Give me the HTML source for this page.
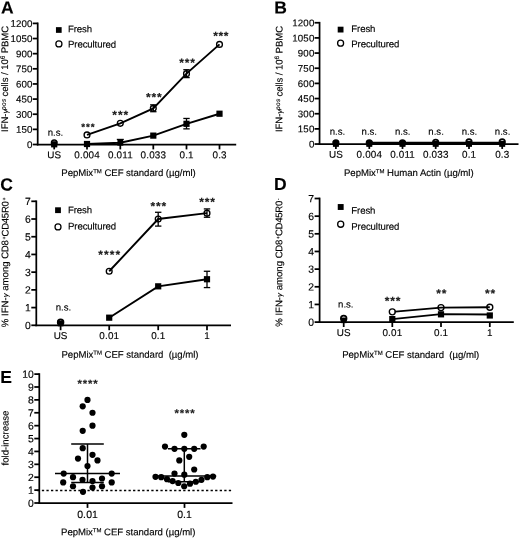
<!DOCTYPE html>
<html lang="en">
<head>
<meta charset="utf-8">
<title>Figure</title>
<style>
html,body{margin:0;padding:0;background:#fff;}
body{width:520px;height:539px;overflow:hidden;}
text{stroke:#000;stroke-width:0.14px;}
svg{display:block;text-rendering:geometricPrecision;font-family:'Liberation Sans', sans-serif;fill:#000;}
</style>
</head>
<body>
<svg width="520" height="539" viewBox="0 0 520 539">
<g>
<rect width="520" height="539" fill="#fff"/>
<line x1="37.70" y1="22.52" x2="37.70" y2="145.38" stroke="#000" stroke-width="1.75" />
<line x1="36.83" y1="144.50" x2="236.20" y2="144.50" stroke="#000" stroke-width="1.75" />
<line x1="32.70" y1="144.50" x2="37.70" y2="144.50" stroke="#000" stroke-width="1.75" />
<text x="32.60" y="148.00" transform="rotate(0.05 32.60 148.00)" text-anchor="end" font-size="9.7" font-weight="normal" letter-spacing="0.14">0</text>
<line x1="32.70" y1="129.36" x2="37.70" y2="129.36" stroke="#000" stroke-width="1.75" />
<text x="32.60" y="132.86" transform="rotate(0.05 32.60 132.86)" text-anchor="end" font-size="9.7" font-weight="normal" letter-spacing="0.14">150</text>
<line x1="32.70" y1="114.22" x2="37.70" y2="114.22" stroke="#000" stroke-width="1.75" />
<text x="32.60" y="117.72" transform="rotate(0.05 32.60 117.72)" text-anchor="end" font-size="9.7" font-weight="normal" letter-spacing="0.14">300</text>
<line x1="32.70" y1="99.09" x2="37.70" y2="99.09" stroke="#000" stroke-width="1.75" />
<text x="32.60" y="102.59" transform="rotate(0.05 32.60 102.59)" text-anchor="end" font-size="9.7" font-weight="normal" letter-spacing="0.14">450</text>
<line x1="32.70" y1="83.95" x2="37.70" y2="83.95" stroke="#000" stroke-width="1.75" />
<text x="32.60" y="87.45" transform="rotate(0.05 32.60 87.45)" text-anchor="end" font-size="9.7" font-weight="normal" letter-spacing="0.14">600</text>
<line x1="32.70" y1="68.81" x2="37.70" y2="68.81" stroke="#000" stroke-width="1.75" />
<text x="32.60" y="72.31" transform="rotate(0.05 32.60 72.31)" text-anchor="end" font-size="9.7" font-weight="normal" letter-spacing="0.14">750</text>
<line x1="32.70" y1="53.67" x2="37.70" y2="53.67" stroke="#000" stroke-width="1.75" />
<text x="32.60" y="57.17" transform="rotate(0.05 32.60 57.17)" text-anchor="end" font-size="9.7" font-weight="normal" letter-spacing="0.14">900</text>
<line x1="32.70" y1="38.54" x2="37.70" y2="38.54" stroke="#000" stroke-width="1.75" />
<text x="32.60" y="42.04" transform="rotate(0.05 32.60 42.04)" text-anchor="end" font-size="9.7" font-weight="normal" letter-spacing="0.14">1050</text>
<line x1="32.70" y1="23.40" x2="37.70" y2="23.40" stroke="#000" stroke-width="1.75" />
<text x="32.60" y="26.90" transform="rotate(0.05 32.60 26.90)" text-anchor="end" font-size="9.7" font-weight="normal" letter-spacing="0.14">1200</text>
<line x1="54.20" y1="144.50" x2="54.20" y2="149.40" stroke="#000" stroke-width="1.75" />
<text x="54.20" y="158.30" transform="rotate(0.05 54.20 158.30)" text-anchor="middle" font-size="9.9" font-weight="normal" >US</text>
<line x1="87.00" y1="144.50" x2="87.00" y2="149.40" stroke="#000" stroke-width="1.75" />
<text x="87.10" y="158.30" transform="rotate(0.05 87.10 158.30)" text-anchor="middle" font-size="9.9" font-weight="normal" letter-spacing="0.18">0.004</text>
<line x1="120.30" y1="144.50" x2="120.30" y2="149.40" stroke="#000" stroke-width="1.75" />
<text x="120.40" y="158.30" transform="rotate(0.05 120.40 158.30)" text-anchor="middle" font-size="9.9" font-weight="normal" letter-spacing="0.18">0.011</text>
<line x1="153.30" y1="144.50" x2="153.30" y2="149.40" stroke="#000" stroke-width="1.75" />
<text x="153.40" y="158.30" transform="rotate(0.05 153.40 158.30)" text-anchor="middle" font-size="9.9" font-weight="normal" letter-spacing="0.18">0.033</text>
<line x1="186.50" y1="144.50" x2="186.50" y2="149.40" stroke="#000" stroke-width="1.75" />
<text x="186.60" y="158.30" transform="rotate(0.05 186.60 158.30)" text-anchor="middle" font-size="9.9" font-weight="normal" letter-spacing="0.18">0.1</text>
<line x1="219.50" y1="144.50" x2="219.50" y2="149.40" stroke="#000" stroke-width="1.75" />
<text x="219.60" y="158.30" transform="rotate(0.05 219.60 158.30)" text-anchor="middle" font-size="9.9" font-weight="normal" letter-spacing="0.18">0.3</text>
<text x="0.90" y="13.40" transform="rotate(0.05 0.90 13.40)" text-anchor="start" font-size="17.5" font-weight="bold" >A</text>
<text transform="translate(8.10,78.90) rotate(-89.95)" text-anchor="middle" font-size="9.6" letter-spacing="-0.08">IFN-<tspan font-size="7.8" font-style="italic">γ</tspan><tspan font-size="6.4" dy="-2.3" dx="-0.2" font-style="italic" letter-spacing="0.45">pos</tspan><tspan dy="2.3" dx="-0.7"> cells / 10</tspan><tspan font-size="6.4" dy="-3.4" dx="0">6</tspan><tspan dy="3.4" dx="0"> PBMC</tspan></text>
<text x="128.50" y="176.00" transform="rotate(0.05 128.50 176.00)" text-anchor="middle" font-size="9.6" font-weight="normal" letter-spacing="-0.03" xml:space="preserve">PepMix<tspan font-size="6" dy="-2.8">TM</tspan><tspan dy="2.8"> </tspan>CEF standard (µg/ml)</text>
<rect x="55.95" y="27.15" width="5.7" height="5.7" fill="#000"/>
<text x="68.00" y="32.20" transform="rotate(0.05 68.00 32.20)" text-anchor="start" font-size="9.6" font-weight="normal" letter-spacing="-0.1">Fresh</text>
<circle cx="58.90" cy="43.90" r="3.05" fill="none" stroke="#000" stroke-width="1.25"/>
<text x="68.00" y="47.60" transform="rotate(0.05 68.00 47.60)" text-anchor="start" font-size="9.6" font-weight="normal" letter-spacing="-0.1">Precultured</text>
<polyline points="87.00,134.91 120.30,123.31 153.30,108.37 186.50,73.66 219.50,44.39" fill="none" stroke="#000" stroke-width="1.9"/>
<polyline points="87.00,144.00 120.30,142.78 153.30,135.62 186.50,123.81 219.50,113.72" fill="none" stroke="#000" stroke-width="1.9"/>
<line x1="120.30" y1="139.45" x2="120.30" y2="144.50" stroke="#000" stroke-width="1.3" />
<line x1="116.80" y1="139.45" x2="123.80" y2="139.45" stroke="#000" stroke-width="1.3" />
<line x1="116.80" y1="144.50" x2="123.80" y2="144.50" stroke="#000" stroke-width="1.3" />
<line x1="186.50" y1="118.46" x2="186.50" y2="128.86" stroke="#000" stroke-width="1.3" />
<line x1="183.30" y1="118.46" x2="189.70" y2="118.46" stroke="#000" stroke-width="1.3" />
<line x1="183.30" y1="128.86" x2="189.70" y2="128.86" stroke="#000" stroke-width="1.3" />
<line x1="153.30" y1="104.84" x2="153.30" y2="111.70" stroke="#000" stroke-width="1.3" />
<line x1="150.10" y1="104.84" x2="156.50" y2="104.84" stroke="#000" stroke-width="1.3" />
<line x1="150.10" y1="111.70" x2="156.50" y2="111.70" stroke="#000" stroke-width="1.3" />
<line x1="186.50" y1="69.72" x2="186.50" y2="77.59" stroke="#000" stroke-width="1.3" />
<line x1="183.30" y1="69.72" x2="189.70" y2="69.72" stroke="#000" stroke-width="1.3" />
<line x1="183.30" y1="77.59" x2="189.70" y2="77.59" stroke="#000" stroke-width="1.3" />
<rect x="51.10" y="141.20" width="6.2" height="6.2" fill="#000"/>
<rect x="83.90" y="140.90" width="6.2" height="6.2" fill="#000"/>
<rect x="117.45" y="139.93" width="5.7" height="5.7" fill="#000"/>
<rect x="150.20" y="132.52" width="6.2" height="6.2" fill="#000"/>
<rect x="183.40" y="120.71" width="6.2" height="6.2" fill="#000"/>
<rect x="216.40" y="110.62" width="6.2" height="6.2" fill="#000"/>
<circle cx="54.20" cy="142.78" r="2.8" fill="none" stroke="#000" stroke-width="1.4"/>
<circle cx="87.00" cy="134.91" r="2.9" fill="none" stroke="#000" stroke-width="1.35"/>
<circle cx="120.30" cy="123.31" r="2.9" fill="none" stroke="#000" stroke-width="1.35"/>
<circle cx="153.30" cy="108.37" r="2.9" fill="none" stroke="#000" stroke-width="1.35"/>
<circle cx="186.50" cy="73.66" r="2.9" fill="none" stroke="#000" stroke-width="1.35"/>
<circle cx="219.50" cy="44.39" r="2.9" fill="none" stroke="#000" stroke-width="1.35"/>
<text x="55.50" y="135.80" transform="rotate(0.05 55.50 135.80)" text-anchor="middle" font-size="9.6" font-weight="normal" >n.s.</text>
<text x="88.30" y="130.20" transform="rotate(0.05 88.30 130.20)" text-anchor="middle" font-size="9.8" font-weight="bold" letter-spacing="0.95" stroke="none" fill="#222">***</text>
<text x="120.80" y="119.00" transform="rotate(0.05 120.80 119.00)" text-anchor="middle" font-size="12" font-weight="bold" letter-spacing="0.95" stroke="none" fill="#222">***</text>
<text x="154.30" y="101.30" transform="rotate(0.05 154.30 101.30)" text-anchor="middle" font-size="12" font-weight="bold" letter-spacing="0.8" stroke="none" fill="#222">***</text>
<text x="187.50" y="66.80" transform="rotate(0.05 187.50 66.80)" text-anchor="middle" font-size="12" font-weight="bold" letter-spacing="0.8" stroke="none" fill="#222">***</text>
<text x="221.20" y="39.90" transform="rotate(0.05 221.20 39.90)" text-anchor="middle" font-size="12" font-weight="bold" letter-spacing="0.7" stroke="none" fill="#222">***</text>
<line x1="319.55" y1="21.88" x2="319.55" y2="144.93" stroke="#000" stroke-width="1.75" />
<line x1="318.68" y1="144.05" x2="518.50" y2="144.05" stroke="#000" stroke-width="1.75" />
<line x1="314.55" y1="144.05" x2="319.55" y2="144.05" stroke="#000" stroke-width="1.75" />
<text x="314.45" y="147.55" transform="rotate(0.05 314.45 147.55)" text-anchor="end" font-size="9.7" font-weight="normal" letter-spacing="0.14">0</text>
<line x1="314.55" y1="128.89" x2="319.55" y2="128.89" stroke="#000" stroke-width="1.75" />
<text x="314.45" y="132.39" transform="rotate(0.05 314.45 132.39)" text-anchor="end" font-size="9.7" font-weight="normal" letter-spacing="0.14">150</text>
<line x1="314.55" y1="113.73" x2="319.55" y2="113.73" stroke="#000" stroke-width="1.75" />
<text x="314.45" y="117.23" transform="rotate(0.05 314.45 117.23)" text-anchor="end" font-size="9.7" font-weight="normal" letter-spacing="0.14">300</text>
<line x1="314.55" y1="98.56" x2="319.55" y2="98.56" stroke="#000" stroke-width="1.75" />
<text x="314.45" y="102.06" transform="rotate(0.05 314.45 102.06)" text-anchor="end" font-size="9.7" font-weight="normal" letter-spacing="0.14">450</text>
<line x1="314.55" y1="83.40" x2="319.55" y2="83.40" stroke="#000" stroke-width="1.75" />
<text x="314.45" y="86.90" transform="rotate(0.05 314.45 86.90)" text-anchor="end" font-size="9.7" font-weight="normal" letter-spacing="0.14">600</text>
<line x1="314.55" y1="68.24" x2="319.55" y2="68.24" stroke="#000" stroke-width="1.75" />
<text x="314.45" y="71.74" transform="rotate(0.05 314.45 71.74)" text-anchor="end" font-size="9.7" font-weight="normal" letter-spacing="0.14">750</text>
<line x1="314.55" y1="53.08" x2="319.55" y2="53.08" stroke="#000" stroke-width="1.75" />
<text x="314.45" y="56.58" transform="rotate(0.05 314.45 56.58)" text-anchor="end" font-size="9.7" font-weight="normal" letter-spacing="0.14">900</text>
<line x1="314.55" y1="37.91" x2="319.55" y2="37.91" stroke="#000" stroke-width="1.75" />
<text x="314.45" y="41.41" transform="rotate(0.05 314.45 41.41)" text-anchor="end" font-size="9.7" font-weight="normal" letter-spacing="0.14">1050</text>
<line x1="314.55" y1="22.75" x2="319.55" y2="22.75" stroke="#000" stroke-width="1.75" />
<text x="314.45" y="26.25" transform="rotate(0.05 314.45 26.25)" text-anchor="end" font-size="9.7" font-weight="normal" letter-spacing="0.14">1200</text>
<line x1="335.90" y1="144.05" x2="335.90" y2="148.95" stroke="#000" stroke-width="1.75" />
<text x="335.90" y="157.85" transform="rotate(0.05 335.90 157.85)" text-anchor="middle" font-size="9.9" font-weight="normal" >US</text>
<line x1="369.30" y1="144.05" x2="369.30" y2="148.95" stroke="#000" stroke-width="1.75" />
<text x="369.40" y="157.85" transform="rotate(0.05 369.40 157.85)" text-anchor="middle" font-size="9.9" font-weight="normal" letter-spacing="0.18">0.004</text>
<line x1="402.50" y1="144.05" x2="402.50" y2="148.95" stroke="#000" stroke-width="1.75" />
<text x="402.60" y="157.85" transform="rotate(0.05 402.60 157.85)" text-anchor="middle" font-size="9.9" font-weight="normal" letter-spacing="0.18">0.011</text>
<line x1="435.70" y1="144.05" x2="435.70" y2="148.95" stroke="#000" stroke-width="1.75" />
<text x="435.80" y="157.85" transform="rotate(0.05 435.80 157.85)" text-anchor="middle" font-size="9.9" font-weight="normal" letter-spacing="0.18">0.033</text>
<line x1="469.00" y1="144.05" x2="469.00" y2="148.95" stroke="#000" stroke-width="1.75" />
<text x="469.10" y="157.85" transform="rotate(0.05 469.10 157.85)" text-anchor="middle" font-size="9.9" font-weight="normal" letter-spacing="0.18">0.1</text>
<line x1="502.20" y1="144.05" x2="502.20" y2="148.95" stroke="#000" stroke-width="1.75" />
<text x="502.30" y="157.85" transform="rotate(0.05 502.30 157.85)" text-anchor="middle" font-size="9.9" font-weight="normal" letter-spacing="0.18">0.3</text>
<text x="274.30" y="13.50" transform="rotate(0.05 274.30 13.50)" text-anchor="start" font-size="17.5" font-weight="bold" >B</text>
<text transform="translate(282.40,79.00) rotate(-89.95)" text-anchor="middle" font-size="9.6" letter-spacing="-0.08">IFN-<tspan font-size="7.8" font-style="italic">γ</tspan><tspan font-size="6.4" dy="-2.3" dx="-0.2" font-style="italic" letter-spacing="0.45">pos</tspan><tspan dy="2.3" dx="-0.7"> cells / 10</tspan><tspan font-size="6.4" dy="-3.4" dx="0">6</tspan><tspan dy="3.4" dx="0"> PBMC</tspan></text>
<text x="408.80" y="176.00" transform="rotate(0.05 408.80 176.00)" text-anchor="middle" font-size="9.6" font-weight="normal" letter-spacing="-0.03" xml:space="preserve">PepMix<tspan font-size="6" dy="-2.8">TM</tspan><tspan dy="2.8"> </tspan>Human Actin (µg/ml)</text>
<rect x="337.70" y="26.70" width="5.8" height="5.8" fill="#000"/>
<text x="351.30" y="32.00" transform="rotate(0.05 351.30 32.00)" text-anchor="start" font-size="9.6" font-weight="normal" letter-spacing="-0.1">Fresh</text>
<circle cx="340.60" cy="43.20" r="3.0" fill="none" stroke="#000" stroke-width="1.3"/>
<text x="351.30" y="47.30" transform="rotate(0.05 351.30 47.30)" text-anchor="start" font-size="9.6" font-weight="normal" letter-spacing="-0.1">Precultured</text>
<polyline points="369.30,143.44 402.50,143.44 435.70,143.44 469.00,143.44 502.20,143.44" fill="none" stroke="#000" stroke-width="1.8"/>
<polyline points="369.30,142.63 402.50,142.63 435.70,142.63 469.00,142.63 502.20,142.63" fill="none" stroke="#000" stroke-width="1.6"/>
<rect x="332.90" y="140.85" width="6.0" height="6.0" fill="#000"/>
<circle cx="335.90" cy="142.84" r="2.75" fill="none" stroke="#000" stroke-width="1.7"/>
<text x="337.50" y="134.80" transform="rotate(0.05 337.50 134.80)" text-anchor="middle" font-size="9.6" font-weight="normal" >n.s.</text>
<rect x="366.30" y="140.85" width="6.0" height="6.0" fill="#000"/>
<circle cx="369.30" cy="142.84" r="2.75" fill="none" stroke="#000" stroke-width="1.7"/>
<text x="369.30" y="134.80" transform="rotate(0.05 369.30 134.80)" text-anchor="middle" font-size="9.6" font-weight="normal" >n.s.</text>
<rect x="399.50" y="140.85" width="6.0" height="6.0" fill="#000"/>
<circle cx="402.50" cy="142.84" r="2.75" fill="none" stroke="#000" stroke-width="1.7"/>
<text x="402.70" y="134.80" transform="rotate(0.05 402.70 134.80)" text-anchor="middle" font-size="9.6" font-weight="normal" >n.s.</text>
<rect x="432.70" y="140.85" width="6.0" height="6.0" fill="#000"/>
<circle cx="435.70" cy="142.43" r="2.75" fill="none" stroke="#000" stroke-width="1.7"/>
<text x="436.10" y="134.80" transform="rotate(0.05 436.10 134.80)" text-anchor="middle" font-size="9.6" font-weight="normal" >n.s.</text>
<rect x="466.00" y="140.85" width="6.0" height="6.0" fill="#000"/>
<circle cx="469.00" cy="141.93" r="2.75" fill="none" stroke="#000" stroke-width="1.7"/>
<text x="469.40" y="134.80" transform="rotate(0.05 469.40 134.80)" text-anchor="middle" font-size="9.6" font-weight="normal" >n.s.</text>
<rect x="499.20" y="140.85" width="6.0" height="6.0" fill="#000"/>
<circle cx="502.20" cy="141.93" r="2.75" fill="none" stroke="#000" stroke-width="1.7"/>
<text x="502.60" y="134.80" transform="rotate(0.05 502.60 134.80)" text-anchor="middle" font-size="9.6" font-weight="normal" >n.s.</text>
<line x1="36.30" y1="200.43" x2="36.30" y2="326.18" stroke="#000" stroke-width="1.75" />
<line x1="35.42" y1="325.30" x2="231.00" y2="325.30" stroke="#000" stroke-width="1.75" />
<line x1="31.30" y1="325.30" x2="36.30" y2="325.30" stroke="#000" stroke-width="1.75" />
<text x="30.80" y="329.05" transform="rotate(0.05 30.80 329.05)" text-anchor="end" font-size="10.4" font-weight="normal" letter-spacing="0">0</text>
<line x1="31.30" y1="307.59" x2="36.30" y2="307.59" stroke="#000" stroke-width="1.75" />
<text x="30.80" y="311.34" transform="rotate(0.05 30.80 311.34)" text-anchor="end" font-size="10.4" font-weight="normal" letter-spacing="0">1</text>
<line x1="31.30" y1="289.87" x2="36.30" y2="289.87" stroke="#000" stroke-width="1.75" />
<text x="30.80" y="293.62" transform="rotate(0.05 30.80 293.62)" text-anchor="end" font-size="10.4" font-weight="normal" letter-spacing="0">2</text>
<line x1="31.30" y1="272.16" x2="36.30" y2="272.16" stroke="#000" stroke-width="1.75" />
<text x="30.80" y="275.91" transform="rotate(0.05 30.80 275.91)" text-anchor="end" font-size="10.4" font-weight="normal" letter-spacing="0">3</text>
<line x1="31.30" y1="254.44" x2="36.30" y2="254.44" stroke="#000" stroke-width="1.75" />
<text x="30.80" y="258.19" transform="rotate(0.05 30.80 258.19)" text-anchor="end" font-size="10.4" font-weight="normal" letter-spacing="0">4</text>
<line x1="31.30" y1="236.73" x2="36.30" y2="236.73" stroke="#000" stroke-width="1.75" />
<text x="30.80" y="240.48" transform="rotate(0.05 30.80 240.48)" text-anchor="end" font-size="10.4" font-weight="normal" letter-spacing="0">5</text>
<line x1="31.30" y1="219.01" x2="36.30" y2="219.01" stroke="#000" stroke-width="1.75" />
<text x="30.80" y="222.76" transform="rotate(0.05 30.80 222.76)" text-anchor="end" font-size="10.4" font-weight="normal" letter-spacing="0">6</text>
<line x1="31.30" y1="201.30" x2="36.30" y2="201.30" stroke="#000" stroke-width="1.75" />
<text x="30.80" y="205.05" transform="rotate(0.05 30.80 205.05)" text-anchor="end" font-size="10.4" font-weight="normal" letter-spacing="0">7</text>
<line x1="60.60" y1="325.30" x2="60.60" y2="330.20" stroke="#000" stroke-width="1.75" />
<text x="60.60" y="339.10" transform="rotate(0.05 60.60 339.10)" text-anchor="middle" font-size="9.9" font-weight="normal" >US</text>
<line x1="109.20" y1="325.30" x2="109.20" y2="330.20" stroke="#000" stroke-width="1.75" />
<text x="109.30" y="339.10" transform="rotate(0.05 109.30 339.10)" text-anchor="middle" font-size="9.9" font-weight="normal" letter-spacing="0.18">0.01</text>
<line x1="158.20" y1="325.30" x2="158.20" y2="330.20" stroke="#000" stroke-width="1.75" />
<text x="158.30" y="339.10" transform="rotate(0.05 158.30 339.10)" text-anchor="middle" font-size="9.9" font-weight="normal" letter-spacing="0.18">0.1</text>
<line x1="207.00" y1="325.30" x2="207.00" y2="330.20" stroke="#000" stroke-width="1.75" />
<text x="207.10" y="339.10" transform="rotate(0.05 207.10 339.10)" text-anchor="middle" font-size="9.9" font-weight="normal" letter-spacing="0.18">1</text>
<text x="0.20" y="190.60" transform="rotate(0.05 0.20 190.60)" text-anchor="start" font-size="17.5" font-weight="bold" >C</text>
<text transform="translate(8.30,327.20) rotate(-89.95)" text-anchor="start" font-size="9.6" >% IFN-<tspan font-size="7.8" font-style="italic">γ</tspan> among <tspan letter-spacing="-0.3">CD8</tspan><tspan font-size="5.0" dy="-2.6" dx="0.9">+</tspan><tspan dy="2.6" dx="0.2" letter-spacing="-0.3">CD45R0</tspan><tspan font-size="5.0" dy="-2.6" dx="0.9">+</tspan></text>
<text x="130.00" y="357.70" transform="rotate(0.05 130.00 357.70)" text-anchor="middle" font-size="9.6" font-weight="normal" letter-spacing="-0.03" xml:space="preserve">PepMix<tspan font-size="6" dy="-2.8">TM</tspan><tspan dy="2.8"> </tspan>CEF standard  (µg/ml)</text>
<rect x="55.10" y="207.30" width="5.8" height="5.8" fill="#000"/>
<text x="68.00" y="213.30" transform="rotate(0.05 68.00 213.30)" text-anchor="start" font-size="9.6" font-weight="normal" letter-spacing="-0.1">Fresh</text>
<circle cx="58.00" cy="226.90" r="3.0" fill="none" stroke="#000" stroke-width="1.25"/>
<text x="68.00" y="229.50" transform="rotate(0.05 68.00 229.50)" text-anchor="start" font-size="9.6" font-weight="normal" letter-spacing="-0.1">Precultured</text>
<polyline points="109.20,271.27 158.20,219.01 207.00,213.17" fill="none" stroke="#000" stroke-width="1.9"/>
<polyline points="109.20,317.68 158.20,286.33 207.00,279.24" fill="none" stroke="#000" stroke-width="1.9"/>
<line x1="158.20" y1="212.28" x2="158.20" y2="226.10" stroke="#000" stroke-width="1.3" />
<line x1="155.00" y1="212.28" x2="161.40" y2="212.28" stroke="#000" stroke-width="1.3" />
<line x1="155.00" y1="226.10" x2="161.40" y2="226.10" stroke="#000" stroke-width="1.3" />
<line x1="207.00" y1="208.92" x2="207.00" y2="217.24" stroke="#000" stroke-width="1.3" />
<line x1="203.80" y1="208.92" x2="210.20" y2="208.92" stroke="#000" stroke-width="1.3" />
<line x1="203.80" y1="217.24" x2="210.20" y2="217.24" stroke="#000" stroke-width="1.3" />
<line x1="207.00" y1="271.27" x2="207.00" y2="287.57" stroke="#000" stroke-width="1.3" />
<line x1="203.80" y1="271.27" x2="210.20" y2="271.27" stroke="#000" stroke-width="1.3" />
<line x1="203.80" y1="287.57" x2="210.20" y2="287.57" stroke="#000" stroke-width="1.3" />
<rect x="106.10" y="314.58" width="6.2" height="6.2" fill="#000"/>
<rect x="155.10" y="283.23" width="6.2" height="6.2" fill="#000"/>
<rect x="203.90" y="276.14" width="6.2" height="6.2" fill="#000"/>
<circle cx="109.20" cy="271.27" r="2.9" fill="none" stroke="#000" stroke-width="1.35"/>
<circle cx="158.20" cy="219.01" r="2.9" fill="none" stroke="#000" stroke-width="1.35"/>
<circle cx="207.00" cy="213.17" r="2.9" fill="none" stroke="#000" stroke-width="1.35"/>
<rect x="57.80" y="320.73" width="5.6" height="5.6" fill="#000"/>
<circle cx="60.60" cy="322.29" r="2.8" fill="none" stroke="#000" stroke-width="1.9"/>
<text x="63.50" y="310.40" transform="rotate(0.05 63.50 310.40)" text-anchor="middle" font-size="9.6" font-weight="normal" >n.s.</text>
<text x="109.70" y="258.80" transform="rotate(0.05 109.70 258.80)" text-anchor="middle" font-size="12" font-weight="bold" letter-spacing="1.05" stroke="none" fill="#222">****</text>
<text x="158.80" y="210.20" transform="rotate(0.05 158.80 210.20)" text-anchor="middle" font-size="12" font-weight="bold" letter-spacing="0.9" stroke="none" fill="#222">***</text>
<text x="207.60" y="206.10" transform="rotate(0.05 207.60 206.10)" text-anchor="middle" font-size="12" font-weight="bold" letter-spacing="0.9" stroke="none" fill="#222">***</text>
<line x1="319.60" y1="197.62" x2="319.60" y2="322.98" stroke="#000" stroke-width="1.75" />
<line x1="318.73" y1="322.10" x2="513.80" y2="322.10" stroke="#000" stroke-width="1.75" />
<line x1="314.60" y1="322.10" x2="319.60" y2="322.10" stroke="#000" stroke-width="1.75" />
<text x="314.10" y="325.85" transform="rotate(0.05 314.10 325.85)" text-anchor="end" font-size="10.4" font-weight="normal" letter-spacing="0">0</text>
<line x1="314.60" y1="304.44" x2="319.60" y2="304.44" stroke="#000" stroke-width="1.75" />
<text x="314.10" y="308.19" transform="rotate(0.05 314.10 308.19)" text-anchor="end" font-size="10.4" font-weight="normal" letter-spacing="0">1</text>
<line x1="314.60" y1="286.79" x2="319.60" y2="286.79" stroke="#000" stroke-width="1.75" />
<text x="314.10" y="290.54" transform="rotate(0.05 314.10 290.54)" text-anchor="end" font-size="10.4" font-weight="normal" letter-spacing="0">2</text>
<line x1="314.60" y1="269.13" x2="319.60" y2="269.13" stroke="#000" stroke-width="1.75" />
<text x="314.10" y="272.88" transform="rotate(0.05 314.10 272.88)" text-anchor="end" font-size="10.4" font-weight="normal" letter-spacing="0">3</text>
<line x1="314.60" y1="251.47" x2="319.60" y2="251.47" stroke="#000" stroke-width="1.75" />
<text x="314.10" y="255.22" transform="rotate(0.05 314.10 255.22)" text-anchor="end" font-size="10.4" font-weight="normal" letter-spacing="0">4</text>
<line x1="314.60" y1="233.81" x2="319.60" y2="233.81" stroke="#000" stroke-width="1.75" />
<text x="314.10" y="237.56" transform="rotate(0.05 314.10 237.56)" text-anchor="end" font-size="10.4" font-weight="normal" letter-spacing="0">5</text>
<line x1="314.60" y1="216.16" x2="319.60" y2="216.16" stroke="#000" stroke-width="1.75" />
<text x="314.10" y="219.91" transform="rotate(0.05 314.10 219.91)" text-anchor="end" font-size="10.4" font-weight="normal" letter-spacing="0">6</text>
<line x1="314.60" y1="198.50" x2="319.60" y2="198.50" stroke="#000" stroke-width="1.75" />
<text x="314.10" y="202.25" transform="rotate(0.05 314.10 202.25)" text-anchor="end" font-size="10.4" font-weight="normal" letter-spacing="0">7</text>
<line x1="343.70" y1="322.10" x2="343.70" y2="327.00" stroke="#000" stroke-width="1.75" />
<text x="343.70" y="335.90" transform="rotate(0.05 343.70 335.90)" text-anchor="middle" font-size="9.9" font-weight="normal" >US</text>
<line x1="392.30" y1="322.10" x2="392.30" y2="327.00" stroke="#000" stroke-width="1.75" />
<text x="392.40" y="335.90" transform="rotate(0.05 392.40 335.90)" text-anchor="middle" font-size="9.9" font-weight="normal" letter-spacing="0.18">0.01</text>
<line x1="441.00" y1="322.10" x2="441.00" y2="327.00" stroke="#000" stroke-width="1.75" />
<text x="441.10" y="335.90" transform="rotate(0.05 441.10 335.90)" text-anchor="middle" font-size="9.9" font-weight="normal" letter-spacing="0.18">0.1</text>
<line x1="489.80" y1="322.10" x2="489.80" y2="327.00" stroke="#000" stroke-width="1.75" />
<text x="489.90" y="335.90" transform="rotate(0.05 489.90 335.90)" text-anchor="middle" font-size="9.9" font-weight="normal" letter-spacing="0.18">1</text>
<text x="274.00" y="190.00" transform="rotate(0.05 274.00 190.00)" text-anchor="start" font-size="17.5" font-weight="bold" >D</text>
<text transform="translate(282.20,326.80) rotate(-89.95)" text-anchor="start" font-size="9.6" >% IFN-<tspan font-size="7.8" font-style="italic">γ</tspan> among <tspan letter-spacing="-0.3">CD8</tspan><tspan font-size="5.0" dy="-2.6" dx="0.9">+</tspan><tspan dy="2.6" dx="0.2" letter-spacing="-0.3">CD45R0</tspan><tspan font-size="5.0" dy="-2.6" dx="0.9">-</tspan></text>
<text x="410.70" y="357.90" transform="rotate(0.05 410.70 357.90)" text-anchor="middle" font-size="9.6" font-weight="normal" letter-spacing="-0.03" xml:space="preserve">PepMix<tspan font-size="6" dy="-2.8">TM</tspan><tspan dy="2.8"> </tspan>CEF standard  (µg/ml)</text>
<rect x="337.75" y="204.05" width="5.9" height="5.9" fill="#000"/>
<text x="351.30" y="213.80" transform="rotate(0.05 351.30 213.80)" text-anchor="start" font-size="9.6" font-weight="normal" letter-spacing="-0.1">Fresh</text>
<circle cx="340.70" cy="224.20" r="3.05" fill="none" stroke="#000" stroke-width="1.3"/>
<text x="351.30" y="229.80" transform="rotate(0.05 351.30 229.80)" text-anchor="start" font-size="9.6" font-weight="normal" letter-spacing="-0.1">Precultured</text>
<polyline points="392.30,311.86 441.00,307.62 489.80,307.27" fill="none" stroke="#000" stroke-width="1.9"/>
<polyline points="392.30,319.10 441.00,314.15 489.80,314.51" fill="none" stroke="#000" stroke-width="1.9"/>
<rect x="389.20" y="316.00" width="6.2" height="6.2" fill="#000"/>
<rect x="437.90" y="311.23" width="6.2" height="6.2" fill="#000"/>
<rect x="486.70" y="312.38" width="6.2" height="6.2" fill="#000"/>
<circle cx="392.30" cy="311.86" r="2.4" fill="#fff"/>
<circle cx="392.30" cy="311.86" r="3.0" fill="none" stroke="#000" stroke-width="1.35"/>
<circle cx="441.00" cy="307.62" r="3.0" fill="none" stroke="#000" stroke-width="1.35"/>
<circle cx="489.80" cy="307.27" r="3.0" fill="none" stroke="#000" stroke-width="1.35"/>
<rect x="340.90" y="317.53" width="5.6" height="5.6" fill="#000"/>
<circle cx="343.70" cy="318.57" r="2.9" fill="none" stroke="#000" stroke-width="1.6"/>
<text x="345.80" y="307.60" transform="rotate(0.05 345.80 307.60)" text-anchor="middle" font-size="9.6" font-weight="normal" >n.s.</text>
<text x="393.00" y="305.00" transform="rotate(0.05 393.00 305.00)" text-anchor="middle" font-size="12" font-weight="bold" letter-spacing="0.9" stroke="none" fill="#222">***</text>
<text x="441.80" y="297.50" transform="rotate(0.05 441.80 297.50)" text-anchor="middle" font-size="12" font-weight="bold" letter-spacing="0.9" stroke="none" fill="#222">**</text>
<text x="490.60" y="297.50" transform="rotate(0.05 490.60 297.50)" text-anchor="middle" font-size="12" font-weight="bold" letter-spacing="0.9" stroke="none" fill="#222">**</text>
<line x1="39.30" y1="373.23" x2="39.30" y2="503.88" stroke="#000" stroke-width="1.75" />
<line x1="38.42" y1="503.00" x2="232.50" y2="503.00" stroke="#000" stroke-width="1.75" />
<line x1="34.30" y1="503.00" x2="39.30" y2="503.00" stroke="#000" stroke-width="1.75" />
<text x="33.80" y="506.75" transform="rotate(0.05 33.80 506.75)" text-anchor="end" font-size="10.4" font-weight="normal" letter-spacing="0">0</text>
<line x1="34.30" y1="490.11" x2="39.30" y2="490.11" stroke="#000" stroke-width="1.75" />
<text x="33.80" y="493.86" transform="rotate(0.05 33.80 493.86)" text-anchor="end" font-size="10.4" font-weight="normal" letter-spacing="0">1</text>
<line x1="34.30" y1="477.22" x2="39.30" y2="477.22" stroke="#000" stroke-width="1.75" />
<text x="33.80" y="480.97" transform="rotate(0.05 33.80 480.97)" text-anchor="end" font-size="10.4" font-weight="normal" letter-spacing="0">2</text>
<line x1="34.30" y1="464.33" x2="39.30" y2="464.33" stroke="#000" stroke-width="1.75" />
<text x="33.80" y="468.08" transform="rotate(0.05 33.80 468.08)" text-anchor="end" font-size="10.4" font-weight="normal" letter-spacing="0">3</text>
<line x1="34.30" y1="451.44" x2="39.30" y2="451.44" stroke="#000" stroke-width="1.75" />
<text x="33.80" y="455.19" transform="rotate(0.05 33.80 455.19)" text-anchor="end" font-size="10.4" font-weight="normal" letter-spacing="0">4</text>
<line x1="34.30" y1="438.55" x2="39.30" y2="438.55" stroke="#000" stroke-width="1.75" />
<text x="33.80" y="442.30" transform="rotate(0.05 33.80 442.30)" text-anchor="end" font-size="10.4" font-weight="normal" letter-spacing="0">5</text>
<line x1="34.30" y1="425.66" x2="39.30" y2="425.66" stroke="#000" stroke-width="1.75" />
<text x="33.80" y="429.41" transform="rotate(0.05 33.80 429.41)" text-anchor="end" font-size="10.4" font-weight="normal" letter-spacing="0">6</text>
<line x1="34.30" y1="412.77" x2="39.30" y2="412.77" stroke="#000" stroke-width="1.75" />
<text x="33.80" y="416.52" transform="rotate(0.05 33.80 416.52)" text-anchor="end" font-size="10.4" font-weight="normal" letter-spacing="0">7</text>
<line x1="34.30" y1="399.88" x2="39.30" y2="399.88" stroke="#000" stroke-width="1.75" />
<text x="33.80" y="403.63" transform="rotate(0.05 33.80 403.63)" text-anchor="end" font-size="10.4" font-weight="normal" letter-spacing="0">8</text>
<line x1="34.30" y1="386.99" x2="39.30" y2="386.99" stroke="#000" stroke-width="1.75" />
<text x="33.80" y="390.74" transform="rotate(0.05 33.80 390.74)" text-anchor="end" font-size="10.4" font-weight="normal" letter-spacing="0">9</text>
<line x1="34.30" y1="374.10" x2="39.30" y2="374.10" stroke="#000" stroke-width="1.75" />
<text x="33.80" y="377.85" transform="rotate(0.05 33.80 377.85)" text-anchor="end" font-size="10.4" font-weight="normal" letter-spacing="0">10</text>
<line x1="87.50" y1="503.00" x2="87.50" y2="507.90" stroke="#000" stroke-width="1.75" />
<text x="87.60" y="518.00" transform="rotate(0.05 87.60 518.00)" text-anchor="middle" font-size="10.5" font-weight="normal" letter-spacing="0.1">0.01</text>
<line x1="184.50" y1="503.00" x2="184.50" y2="507.90" stroke="#000" stroke-width="1.75" />
<text x="184.60" y="518.00" transform="rotate(0.05 184.60 518.00)" text-anchor="middle" font-size="10.5" font-weight="normal" letter-spacing="0.1">0.1</text>
<text x="0.20" y="382.90" transform="rotate(0.05 0.20 382.90)" text-anchor="start" font-size="17.5" font-weight="bold" >E</text>
<text transform="translate(8.40,438.00) rotate(-89.95)" text-anchor="middle" font-size="9.6" >fold-increase</text>
<text x="128.20" y="535.20" transform="rotate(0.05 128.20 535.20)" text-anchor="middle" font-size="9.6" font-weight="normal" letter-spacing="-0.03" xml:space="preserve">PepMix<tspan font-size="6" dy="-2.8">TM</tspan><tspan dy="2.8"> </tspan>CEF standard (µg/ml)</text>
<line x1="37.30" y1="490.51" x2="231.50" y2="490.51" stroke="#000" stroke-width="1.6" stroke-dasharray="2.28 2.28"/>
<line x1="55.00" y1="473.61" x2="120.00" y2="473.61" stroke="#000" stroke-width="1.5" />
<line x1="71.20" y1="444.09" x2="103.80" y2="444.09" stroke="#000" stroke-width="1.5" />
<line x1="71.20" y1="482.50" x2="103.80" y2="482.50" stroke="#000" stroke-width="1.5" />
<line x1="87.50" y1="444.09" x2="87.50" y2="482.50" stroke="#000" stroke-width="1.5" />
<circle cx="87.50" cy="399.88" r="3.1" fill="#000"/>
<circle cx="82.70" cy="406.33" r="3.1" fill="#000"/>
<circle cx="92.50" cy="412.77" r="3.1" fill="#000"/>
<circle cx="92.50" cy="425.66" r="3.1" fill="#000"/>
<circle cx="82.70" cy="430.82" r="3.1" fill="#000"/>
<circle cx="82.70" cy="448.22" r="3.1" fill="#000"/>
<circle cx="92.50" cy="454.79" r="3.1" fill="#000"/>
<circle cx="78.00" cy="458.53" r="3.1" fill="#000"/>
<circle cx="97.50" cy="460.46" r="3.1" fill="#000"/>
<circle cx="87.50" cy="466.01" r="3.1" fill="#000"/>
<circle cx="63.70" cy="473.61" r="3.1" fill="#000"/>
<circle cx="111.70" cy="473.61" r="3.1" fill="#000"/>
<circle cx="73.00" cy="477.22" r="3.1" fill="#000"/>
<circle cx="102.00" cy="478.51" r="3.1" fill="#000"/>
<circle cx="82.50" cy="479.80" r="3.1" fill="#000"/>
<circle cx="92.50" cy="481.09" r="3.1" fill="#000"/>
<circle cx="63.20" cy="482.38" r="3.1" fill="#000"/>
<circle cx="111.70" cy="482.38" r="3.1" fill="#000"/>
<circle cx="73.00" cy="486.24" r="3.1" fill="#000"/>
<circle cx="102.00" cy="486.24" r="3.1" fill="#000"/>
<circle cx="92.50" cy="487.53" r="3.1" fill="#000"/>
<circle cx="83.00" cy="491.79" r="3.1" fill="#000"/>
<line x1="153.70" y1="476.06" x2="216.20" y2="476.06" stroke="#000" stroke-width="1.5" />
<line x1="168.00" y1="448.86" x2="200.50" y2="448.86" stroke="#000" stroke-width="1.5" />
<line x1="168.00" y1="481.86" x2="200.50" y2="481.86" stroke="#000" stroke-width="1.5" />
<line x1="184.30" y1="448.86" x2="184.30" y2="481.86" stroke="#000" stroke-width="1.5" />
<circle cx="184.30" cy="434.81" r="3.1" fill="#000"/>
<circle cx="165.00" cy="446.54" r="3.1" fill="#000"/>
<circle cx="203.70" cy="446.54" r="3.1" fill="#000"/>
<circle cx="174.50" cy="448.86" r="3.1" fill="#000"/>
<circle cx="184.30" cy="448.86" r="3.1" fill="#000"/>
<circle cx="194.20" cy="448.86" r="3.1" fill="#000"/>
<circle cx="189.20" cy="456.85" r="3.1" fill="#000"/>
<circle cx="179.30" cy="460.46" r="3.1" fill="#000"/>
<circle cx="194.20" cy="469.49" r="3.1" fill="#000"/>
<circle cx="174.50" cy="473.61" r="3.1" fill="#000"/>
<circle cx="184.30" cy="474.64" r="3.1" fill="#000"/>
<circle cx="155.50" cy="476.83" r="3.1" fill="#000"/>
<circle cx="161.20" cy="477.22" r="3.1" fill="#000"/>
<circle cx="167.00" cy="479.15" r="3.1" fill="#000"/>
<circle cx="172.60" cy="481.09" r="3.1" fill="#000"/>
<circle cx="178.30" cy="483.02" r="3.1" fill="#000"/>
<circle cx="184.20" cy="486.24" r="3.1" fill="#000"/>
<circle cx="190.00" cy="483.67" r="3.1" fill="#000"/>
<circle cx="195.80" cy="481.73" r="3.1" fill="#000"/>
<circle cx="201.50" cy="479.80" r="3.1" fill="#000"/>
<circle cx="207.30" cy="477.22" r="3.1" fill="#000"/>
<circle cx="213.00" cy="476.58" r="3.1" fill="#000"/>
<text x="88.00" y="387.60" transform="rotate(0.05 88.00 387.60)" text-anchor="middle" font-size="11.3" font-weight="bold" letter-spacing="0.85" stroke="none" fill="#222">****</text>
<text x="185.10" y="417.00" transform="rotate(0.05 185.10 417.00)" text-anchor="middle" font-size="11.3" font-weight="bold" letter-spacing="0.85" stroke="none" fill="#222">****</text>
</g>
</svg>
</body>
</html>
